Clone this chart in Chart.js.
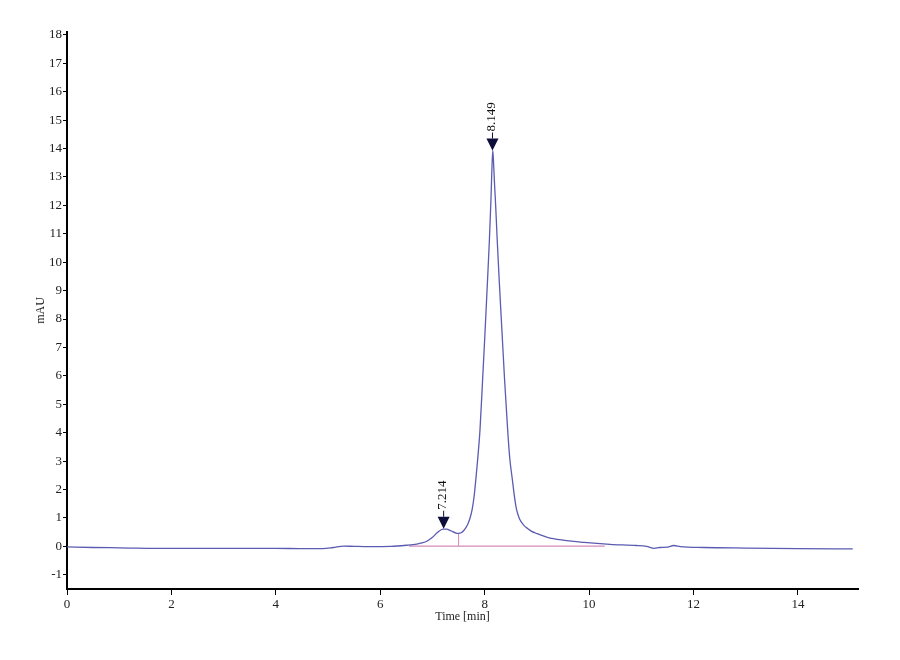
<!DOCTYPE html>
<html>
<head>
<meta charset="utf-8">
<script src="https://cdn.jsdelivr.net/npm/chart.js@4"></script>
<style>
  html, body { margin: 0; padding: 0; background: #fff; }
  #wrap { width: 900px; height: 660px; }
</style>
</head>
<body>
<div id="wrap"><canvas id="chromChart" width="900" height="660"></canvas></div>
<script>
// Chromatogram trace (time in min, signal in mAU)
const timeMin = [0.0, 0.5, 1.0, 2.0, 3.0, 4.0, 4.5, 4.9, 5.1, 5.3, 5.5, 5.8, 6.2, 6.5, 6.7, 6.8, 6.9,
    7.0, 7.1, 7.2, 7.27, 7.35, 7.45, 7.5, 7.55, 7.6, 7.64, 7.68, 7.72, 7.76, 7.8, 7.83, 7.87,
    7.91, 7.96, 8.0, 8.05, 8.09, 8.12, 8.135, 8.155, 8.175, 8.19, 8.21, 8.24, 8.28, 8.33, 8.38,
    8.44, 8.48, 8.53, 8.57, 8.61, 8.66, 8.7, 8.75, 8.82, 8.9, 9.0, 9.2, 9.5, 9.9, 10.4, 10.9,
    11.1, 11.25, 11.35, 11.5, 11.62, 11.75, 12.2, 13.0, 14.0, 15.05];
const signalMau = [-0.02, -0.04, -0.05, -0.07, -0.07, -0.07, -0.08, -0.08, -0.04, 0.01, 0.0, -0.01, 0.0, 0.04, 0.08, 0.12, 0.19,
    0.32, 0.5, 0.61, 0.61, 0.55, 0.47, 0.46, 0.48, 0.56, 0.66, 0.8, 1.0, 1.3, 1.8, 2.35, 3.15,
    4.1, 5.86, 7.3, 9.2, 10.77, 12.2, 13.1, 13.93, 13.3, 12.7, 12.0, 10.77, 9.3, 7.6, 5.9,
    4.1, 3.1, 2.35, 1.75, 1.3, 1.0, 0.86, 0.74, 0.63, 0.53, 0.45, 0.32, 0.22, 0.14, 0.07, 0.03,
    0.0, -0.07, -0.04, -0.03, 0.03, -0.01, -0.04, -0.06, -0.08, -0.09];

// integration baseline and drop line
const baseTimes = [6.55, 10.3];
const baseValues = [0.01, 0.01];
const dropTimes = [7.5, 7.5];
const dropValues = [0.01, 0.46];

// peak markers
const peakTimes = [7.214, 8.149];
const peakHeights = [0.62, 13.93];
const peakLabels = ['7.214', '8.149'];

const serif = '"Liberation Serif", "Times New Roman", serif';

function toPoints(xs, ys) {
    return xs.map((x, i) => ({ x: x, y: ys[i] }));
}

// arrows + rotated retention-time labels
const peakMarkers = {
    id: 'peakMarkers',
    afterDatasetsDraw(chart) {
        const ctx = chart.ctx;
        const xs = chart.scales.x, ys = chart.scales.y;
        peakTimes.forEach((t, i) => {
            const px = xs.getPixelForValue(t);
            const py = ys.getPixelForValue(peakHeights[i]);
            ctx.save();
            ctx.fillStyle = '#0d0d3a';
            ctx.beginPath();
            ctx.moveTo(px, py);
            ctx.lineTo(px - 6, py - 12);
            ctx.lineTo(px + 6, py - 12);
            ctx.closePath();
            ctx.fill();
            ctx.strokeStyle = '#0d0d3a';
            ctx.lineWidth = 1;
            ctx.beginPath();
            ctx.moveTo(px, py - 12);
            ctx.lineTo(px, py - 18);
            ctx.stroke();
            ctx.translate(px, py - 18);
            ctx.rotate(-Math.PI / 2);
            ctx.fillStyle = '#111';
            ctx.font = '13px ' + serif;
            ctx.textAlign = 'left';
            ctx.textBaseline = 'middle';
            ctx.fillText(peakLabels[i], 1, -1);
            ctx.restore();
        });
    }
};

function createChromChart() {
    const ctx = document.getElementById('chromChart').getContext('2d');

    new Chart(ctx, {
        type: 'line',
        data: {
            datasets: [{
                label: 'signal',
                data: toPoints(timeMin, signalMau),
                borderColor: '#5b5bb2',
                borderWidth: 1.3,
                pointRadius: 0,
                cubicInterpolationMode: 'monotone',
                order: 1
            },
            {
                label: 'baseline',
                data: toPoints(baseTimes, baseValues),
                borderColor: '#d58ab8',
                borderWidth: 1.2,
                pointRadius: 0,
                order: 2
            },
            {
                label: 'drop',
                data: toPoints(dropTimes, dropValues),
                borderColor: '#d58ab8',
                borderWidth: 1,
                pointRadius: 0,
                order: 2
            }]
        },
        options: {
            responsive: false,
            animation: false,
            layout: {
                padding: { left: 0, top: 32, right: 42, bottom: 0 }
            },
            plugins: {
                legend: { display: false },
                tooltip: { enabled: false },
                title: { display: false }
            },
            scales: {
                x: {
                    type: 'linear',
                    min: 0,
                    max: 15.15,
                    afterFit: s => { s.height = 71; },
                    border: { display: true, color: '#000', width: 2 },
                    grid: { drawOnChartArea: false, drawTicks: true, tickLength: 6, color: '#000' },
                    ticks: {
                        stepSize: 2,
                        includeBounds: false,
                        autoSkip: false,
                        maxRotation: 0,
                        color: '#222',
                        padding: 2,
                        font: { family: serif, size: 13 }
                    },
                    title: {
                        display: true,
                        text: 'Time [min]',
                        color: '#222',
                        padding: { top: 2, bottom: 36 },
                        font: { family: serif, size: 12 }
                    }
                },
                y: {
                    type: 'linear',
                    min: -1.5,
                    max: 18.1,
                    afterFit: s => { s.width = 67; },
                    border: { display: true, color: '#000', width: 2 },
                    grid: { drawOnChartArea: false, drawTicks: true, tickLength: 4, color: '#000' },
                    ticks: {
                        stepSize: 1,
                        includeBounds: false,
                        autoSkip: false,
                        color: '#222',
                        padding: 1,
                        font: { family: serif, size: 13 }
                    },
                    title: {
                        display: true,
                        text: 'mAU',
                        color: '#222',
                        padding: { top: 34, bottom: 0 },
                        font: { family: serif, size: 12 }
                    }
                }
            }
        },
        plugins: [peakMarkers]
    });
}

document.addEventListener('DOMContentLoaded', () => {
    createChromChart();
});
</script>
</body>
</html>
